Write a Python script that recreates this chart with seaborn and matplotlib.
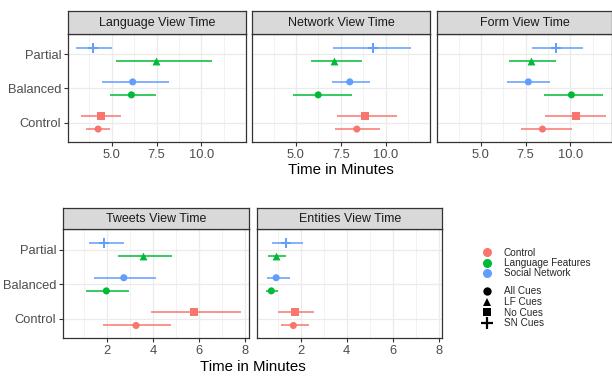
import pandas as pd
import seaborn as sns
import matplotlib.pyplot as plt
from matplotlib.lines import Line2D

# categorias (ordem de cima para baixo dentro de cada painel)
y_levels = ["Control", "Balanced", "Partial"]
conditions = ["Partial", "Partial", "Balanced", "Balanced", "Control", "Control"]
groups = ["Social Network", "Language Features", "Social Network", "Language Features", "Control", "Control"]
cues = ["SN Cues", "LF Cues", "All Cues", "All Cues", "No Cues", "All Cues"]

# painel de cima
lang_mean = [3.97, 7.47, 6.16, 6.09, 4.38, 4.23]
lang_lo = [3.00, 5.21, 4.44, 4.87, 3.28, 3.54]
lang_hi = [4.98, 10.58, 8.20, 7.47, 5.49, 4.87]

net_mean = [9.28, 7.13, 8.00, 6.24, 8.83, 8.39]
net_lo = [7.09, 5.83, 7.00, 4.85, 7.28, 7.17]
net_hi = [11.43, 8.67, 9.11, 8.11, 10.65, 9.67]

form_mean = [9.19, 7.81, 7.65, 10.06, 10.30, 8.44]
form_lo = [7.87, 6.57, 6.48, 8.54, 8.56, 7.22]
form_hi = [10.72, 9.19, 8.87, 11.85, 12.00, 10.11]

# painel de baixo
tweets_mean = [1.87, 3.54, 2.72, 1.96, 5.78, 3.25]
tweets_lo = [1.19, 2.46, 1.43, 1.06, 3.88, 1.83]
tweets_hi = [2.72, 4.83, 4.13, 2.96, 7.81, 4.75]

ent_mean = [1.36, 0.93, 0.93, 0.72, 1.74, 1.68]
ent_lo = [0.75, 0.58, 0.52, 0.49, 1.03, 1.12]
ent_hi = [2.12, 1.35, 1.55, 1.00, 2.57, 2.38]

top_ticks = [5.0, 7.5, 10.0]
top_labels = ["5.0", "7.5", "10.0"]
top_minor = [3.75, 6.25, 8.75, 11.25]
bottom_ticks = [2, 4, 6, 8]
bottom_labels = ["2", "4", "6", "8"]
bottom_minor = [1, 3, 5, 7]

group_order = ["Control", "Language Features", "Social Network"]
cue_order = ["All Cues", "LF Cues", "No Cues", "SN Cues"]
palette = {"Control": "#F8766D", "Language Features": "#00BA38", "Social Network": "#619CFF"}
cue_markers = {"All Cues": "o", "LF Cues": "^", "No Cues": "s", "SN Cues": "+"}
cue_sizes = {"All Cues": 26, "LF Cues": 32, "No Cues": 40, "SN Cues": 60}

# tabela longa
linhas = []
paineis = [
    ("Language View Time", lang_mean, lang_lo, lang_hi),
    ("Network View Time", net_mean, net_lo, net_hi),
    ("Form View Time", form_mean, form_lo, form_hi),
    ("Tweets View Time", tweets_mean, tweets_lo, tweets_hi),
    ("Entities View Time", ent_mean, ent_lo, ent_hi),
]
for nome, m, lo, hi in paineis:
    for i in range(len(m)):
        linhas.append({"panel": nome, "condition": conditions[i], "group": groups[i],
                       "cue": cues[i], "mean": m[i], "lo": lo[i], "hi": hi[i]})
df = pd.DataFrame(linhas)
df["slot"] = df.groupby(["panel", "condition"]).cumcount()
df["ypos"] = df["condition"].map({c: i + 1 for i, c in enumerate(y_levels)}) + 0.19 * (1 - 2 * df["slot"])

sns.set_theme(style="white")
plt.rcParams["font.family"] = ["Liberation Sans", "DejaVu Sans"]

W, H = 612, 376
fig = plt.figure(figsize=(W / 100, H / 100), dpi=100)


def caixa(x0, y0, x1, y1):
    return [x0 / W, 1 - y1 / H, (x1 - x0) / W, (y1 - y0) / H]


# (painel, x0, x1, y_strip, y0, y1, xlim, ticks)
layout = [
    ("Language View Time", 68, 245.7, 11, 34, 141.7, (2.55, 12.47), "top", True),
    ("Network View Time", 252, 430, 11, 34, 141.7, (2.55, 12.47), "top", False),
    ("Form View Time", 437.3, 611.5, 11, 34, 141.7, (2.56, 12.3), "top", False),
    ("Tweets View Time", 63.3, 249, 207.7, 229.3, 338.3, (0.09, 8.16), "bottom", True),
    ("Entities View Time", 257.3, 442.3, 207.7, 229.3, 338.3, (0.11, 8.16), "bottom", False),
]

for nome, x0, x1, ys, y0, y1, xlim, linha, primeiro in layout:
    ax = fig.add_axes(caixa(x0, y0, x1, y1))
    sub = df[df["panel"] == nome]

    # barras de erro
    ax.hlines(sub["ypos"], sub["lo"], sub["hi"], colors=[palette[g] for g in sub["group"]],
              lw=1.1, zorder=2)
    # pontos
    for cue in cue_order:
        sc = sub[sub["cue"] == cue]
        if sc.empty:
            continue
        mk = cue_markers[cue]
        sns.scatterplot(data=sc, x="mean", y="ypos", hue="group", palette=palette,
                        hue_order=group_order, marker=mk, s=cue_sizes[cue],
                        linewidth=1.4 if mk == "+" else 0, legend=False, ax=ax, zorder=3)

    ax.set_xlim(*xlim)
    ax.set_ylim(0.44, 3.59)
    if linha == "top":
        ax.set_xticks(top_ticks)
        ax.set_xticklabels(top_labels)
        ax.set_xticks(top_minor, minor=True)
    else:
        ax.set_xticks(bottom_ticks)
        ax.set_xticklabels(bottom_labels)
        ax.set_xticks(bottom_minor, minor=True)
    ax.set_yticks([1, 2, 3])
    ax.set_yticklabels(y_levels)
    ax.set_xlabel("")
    ax.set_ylabel("")
    ax.set_axisbelow(True)
    ax.grid(which="major", color="#EBEBEB", lw=0.9)
    ax.grid(which="minor", axis="x", color="#EBEBEB", lw=0.45)
    ax.tick_params(axis="both", which="major", length=3, width=0.8, color="#333333",
                   labelcolor="#4D4D4D", labelsize=9.3, pad=2, bottom=True, left=True)
    ax.tick_params(axis="x", which="minor", length=0)
    if not primeiro:
        ax.tick_params(axis="y", left=False, labelleft=False)
    for sp in ax.spines.values():
        sp.set_color("#333333")
        sp.set_linewidth(0.9)

    # faixa do título
    sax = fig.add_axes(caixa(x0, ys, x1, y0))
    sax.set_facecolor("#D9D9D9")
    sax.set_xticks([])
    sax.set_yticks([])
    for sp in sax.spines.values():
        sp.set_color("#333333")
        sp.set_linewidth(0.9)
    sax.text(0.5, 0.48, nome, ha="center", va="center", fontsize=9, color="#1A1A1A",
             transform=sax.transAxes)

fig.text(341 / W, 1 - 170 / H, "Time in Minutes", ha="center", va="center", fontsize=10.8, color="black")
fig.text(253 / W, 1 - 367 / H, "Time in Minutes", ha="center", va="center", fontsize=10.8, color="black")

# legendas
cor_handles = [Line2D([], [], marker="o", linestyle="", color=palette[g], markersize=6.5,
                      markeredgewidth=0, label=g) for g in group_order]
forma_handles = []
for cue in cue_order:
    mk = cue_markers[cue]
    forma_handles.append(Line2D([], [], marker=mk, linestyle="", color="black",
                                markersize=8 if mk == "+" else 6,
                                markeredgewidth=1.6 if mk == "+" else 0, label=cue))

fig.legend(handles=cor_handles, loc="upper left", bbox_to_anchor=(482 / W, 1 - 247.5 / H),
           frameon=False, fontsize=7.2, handlelength=1.0, handletextpad=1.2,
           labelspacing=0.05, borderpad=0, borderaxespad=0)
fig.legend(handles=forma_handles, loc="upper left", bbox_to_anchor=(482 / W, 1 - 286.5 / H),
           frameon=False, fontsize=7.2, handlelength=1.0, handletextpad=1.2,
           labelspacing=0.05, borderpad=0, borderaxespad=0)

fig.savefig("out.png", dpi=100)
